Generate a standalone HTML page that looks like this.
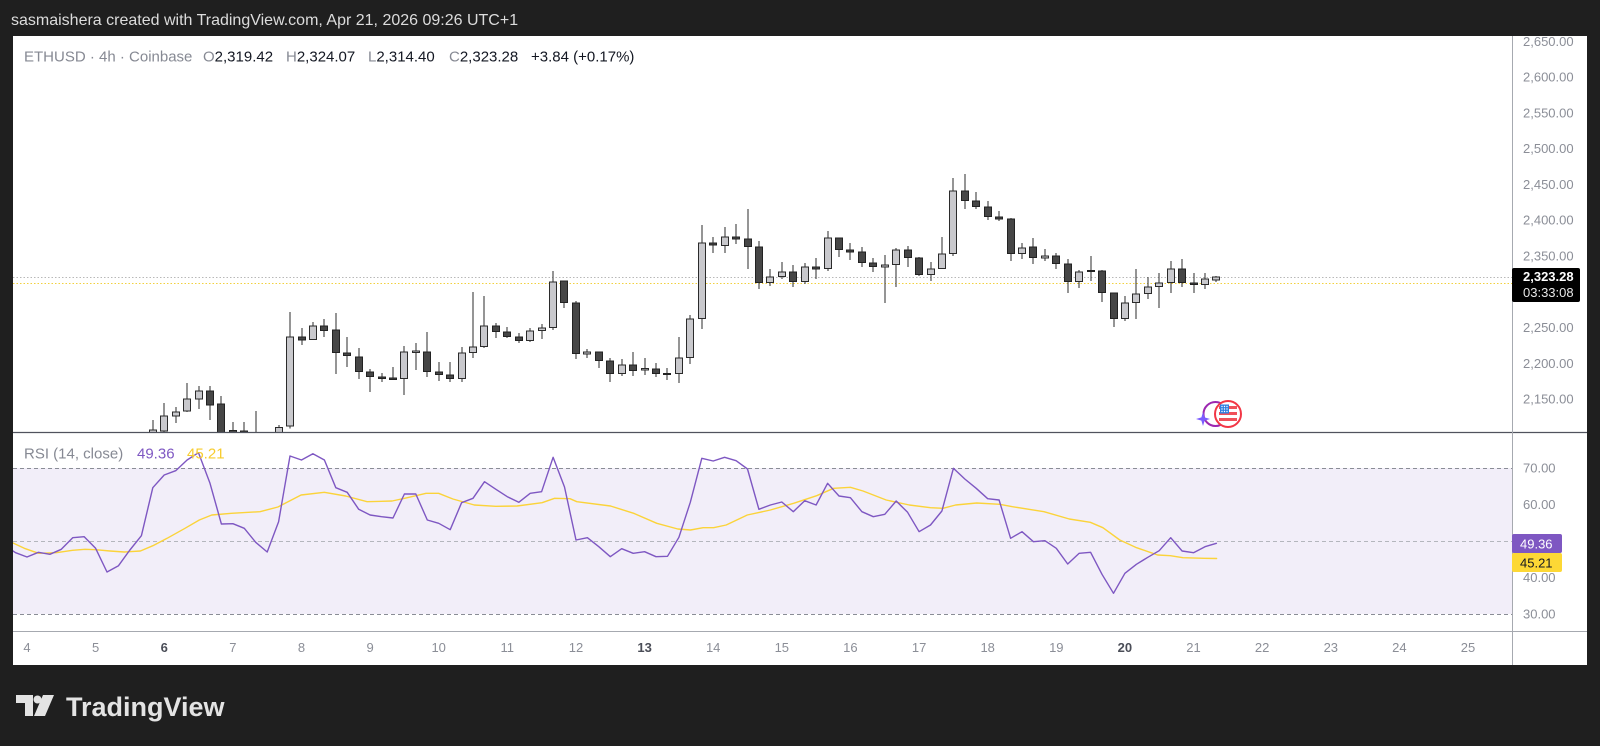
<!DOCTYPE html>
<html>
<head>
<meta charset="utf-8">
<style>
  html,body{margin:0;padding:0;}
  body{width:1600px;height:746px;background:#1f1f1f;overflow:hidden;position:relative;}
  svg{position:absolute;left:0;top:0;}
  text{font-family:"Liberation Sans",Arial,sans-serif;}
</style>
</head>
<body>
<svg width="1600" height="746" viewBox="0 0 1600 746" xmlns="http://www.w3.org/2000/svg">
  <defs>
    <clipPath id="pricePane"><rect x="13" y="36" width="1499" height="396"/></clipPath>
    <clipPath id="priceAxis"><rect x="1513" y="36" width="74" height="396"/></clipPath>
    <clipPath id="rsiPane"><rect x="13" y="433" width="1499" height="198"/></clipPath>
  </defs>

  <!-- header -->
  <text x="11" y="25" font-size="16" fill="#dcdcdc">sasmaishera created with TradingView.com, Apr 21, 2026 09:26 UTC+1</text>

  <!-- white panel -->
  <rect x="13" y="36" width="1574" height="629" fill="#ffffff"/>

  <!-- RSI band background -->
  <rect x="13" y="468" width="1499" height="146" fill="#f2eef9"/>
  <!-- RSI dashed levels -->
  <g stroke-width="1" stroke-dasharray="4 3" fill="none">
    <line x1="13" y1="468.5" x2="1512" y2="468.5" stroke="#8a8d96"/>
    <line x1="13" y1="541.5" x2="1512" y2="541.5" stroke="#b4b6bd"/>
    <line x1="13" y1="614.5" x2="1512" y2="614.5" stroke="#8a8d96"/>
  </g>

  <!-- price lines -->
  <line x1="13" y1="277.5" x2="1512" y2="277.5" stroke="#b8b8b8" stroke-width="1" stroke-dasharray="1.5 2"/>
  <line x1="13" y1="283.5" x2="1512" y2="283.5" stroke="#f2d03c" stroke-width="1" stroke-dasharray="1.5 2"/>

  <!-- candles -->
  <g clip-path="url(#pricePane)" shape-rendering="crispEdges">
    <path fill="none" stroke="#2b2b2b" stroke-width="1" d="
      M153 420V432 M164 403V432 M176 407V423 M187 383V412 M199 386V409 M210 386V420 M221 396V433
      M233 422V433 M244 422V433 M256 411V433 M279 425V433 M290 312V428.5
      M302 328V345 M313 322V340 M324 319V337 M336 313V374 M347 337V367 M359 348V379
      M370 369V392 M382 373V382 M393 367V380 M404 346V395 M416 343V370 M427 332V377
      M439 362V381 M450 362V382 M462 347V382 M473 292V358 M484 296V348 M496 323V338
      M507 327V338 M519 333V343 M530 328V342 M542 324V339 M553 271V330 M564 281V308
      M576 301V359 M587 349V358 M599 352V368 M610 358V382 M622 359V376 M633 352V376
      M645 358V375 M656 363V377 M667 368V380 M679 337V383 M690 315V364 M702 225V329
      M713 237V253 M725 227V253 M736 224V244 M748 209V269 M759 241V289 M770 269V286
      M782 262V279 M793 265V287 M805 263V284 M816 258V279 M828 231V271 M839 238V257
      M850 243V260 M862 247V267 M873 258V272 M885 255V303 M896 248V287 M908 246V267
      M919 257V276 M931 262V281 M942 237V269 M953 178V256 M965 174V209 M976 192V209
      M988 201V220 M999 211V221 M1011 218V261 M1022 243V259 M1033 238V264 M1045 249V261
      M1056 253V269 M1068 259V293 M1079 270V288 M1091 256V281 M1102 270V302 M1114 293V327
      M1125 296V321 M1136 269V319 M1148 277V299 M1159 273V308 M1171 261V293 M1182 259V287
      M1194 273V293 M1205 273V289 M1216 276V282"/>
    <!-- up candles -->
    <g fill="#c9c9cd" stroke="#2b2b2b" stroke-width="1">
      <rect x="149.5" y="430" width="7" height="3"/>
      <rect x="160.5" y="416" width="7" height="15"/>
      <rect x="172.5" y="412" width="7" height="4"/>
      <rect x="183.5" y="399" width="7" height="12"/>
      <rect x="195.5" y="391" width="7" height="8"/>
      <rect x="275.5" y="427.5" width="7" height="6"/>
      <rect x="286.5" y="337" width="7" height="89"/>
      <rect x="309.5" y="326" width="7" height="13.5"/>
      <rect x="400.5" y="352" width="7" height="26.5"/>
      <rect x="412.5" y="351" width="7" height="1.5"/>
      <rect x="458.5" y="353" width="7" height="25.5"/>
      <rect x="469.5" y="347" width="7" height="5.5"/>
      <rect x="480.5" y="326" width="7" height="20.5"/>
      <rect x="526.5" y="331" width="7" height="9.5"/>
      <rect x="538.5" y="328" width="7" height="2.5"/>
      <rect x="549.5" y="282" width="7" height="45.5"/>
      <rect x="583.5" y="352" width="7" height="2"/>
      <rect x="618.5" y="365" width="7" height="8.5"/>
      <rect x="641.5" y="368.5" width="7" height="1.5"/>
      <rect x="675.5" y="358" width="7" height="15.5"/>
      <rect x="686.5" y="319" width="7" height="38.5"/>
      <rect x="698.5" y="243" width="7" height="75.5"/>
      <rect x="721.5" y="237" width="7" height="8.5"/>
      <rect x="766.5" y="277" width="7" height="5.5"/>
      <rect x="778.5" y="272" width="7" height="4.5"/>
      <rect x="801.5" y="267" width="7" height="14.5"/>
      <rect x="824.5" y="238" width="7" height="30.5"/>
      <rect x="881.5" y="265" width="7" height="2"/>
      <rect x="892.5" y="250" width="7" height="14.5"/>
      <rect x="927.5" y="269" width="7" height="5.5"/>
      <rect x="938.5" y="254" width="7" height="14.5"/>
      <rect x="949.5" y="191" width="7" height="62.5"/>
      <rect x="1018.5" y="248" width="7" height="5.5"/>
      <rect x="1041.5" y="256" width="7" height="2"/>
      <rect x="1075.5" y="272" width="7" height="9.5"/>
      <rect x="1121.5" y="303" width="7" height="15.5"/>
      <rect x="1132.5" y="294" width="7" height="8.5"/>
      <rect x="1144.5" y="287" width="7" height="6.5"/>
      <rect x="1155.5" y="283" width="7" height="3.5"/>
      <rect x="1167.5" y="269" width="7" height="13.5"/>
      <rect x="1201.5" y="279" width="7" height="5.5"/>
      <rect x="1212.5" y="277" width="7" height="3"/>
    </g>
    <!-- down candles -->
    <g fill="#464646" stroke="#222222" stroke-width="1">
      <rect x="206.5" y="391" width="7" height="14"/>
      <rect x="217.5" y="404" width="7" height="29"/>
      <rect x="229.5" y="430.5" width="7" height="3"/>
      <rect x="240.5" y="431" width="7" height="3"/>
      <rect x="298.5" y="337" width="7" height="3"/>
      <rect x="320.5" y="326" width="7" height="4.5"/>
      <rect x="332.5" y="330" width="7" height="22.5"/>
      <rect x="343.5" y="353" width="7" height="2.5"/>
      <rect x="355.5" y="357" width="7" height="14.5"/>
      <rect x="366.5" y="372" width="7" height="4.5"/>
      <rect x="378.5" y="377" width="7" height="1.5"/>
      <rect x="389.5" y="378" width="7" height="1.5"/>
      <rect x="423.5" y="352" width="7" height="19.5"/>
      <rect x="435.5" y="372" width="7" height="2.5"/>
      <rect x="446.5" y="375" width="7" height="3.5"/>
      <rect x="492.5" y="326" width="7" height="5.5"/>
      <rect x="503.5" y="332" width="7" height="4.5"/>
      <rect x="515.5" y="337" width="7" height="3.5"/>
      <rect x="560.5" y="281" width="7" height="21.5"/>
      <rect x="572.5" y="303" width="7" height="50.5"/>
      <rect x="595.5" y="352" width="7" height="8.5"/>
      <rect x="606.5" y="361" width="7" height="12.5"/>
      <rect x="629.5" y="365" width="7" height="5.5"/>
      <rect x="652.5" y="369" width="7" height="4.5"/>
      <rect x="663.5" y="373.5" width="7" height="1"/>
      <rect x="709.5" y="243" width="7" height="2"/>
      <rect x="732.5" y="237" width="7" height="2"/>
      <rect x="744.5" y="239" width="7" height="7.5"/>
      <rect x="755.5" y="247" width="7" height="35.5"/>
      <rect x="789.5" y="272" width="7" height="9.5"/>
      <rect x="812.5" y="267" width="7" height="2"/>
      <rect x="835.5" y="238" width="7" height="11.5"/>
      <rect x="846.5" y="250" width="7" height="2"/>
      <rect x="858.5" y="252" width="7" height="10.5"/>
      <rect x="869.5" y="263" width="7" height="3.5"/>
      <rect x="904.5" y="250" width="7" height="7.5"/>
      <rect x="915.5" y="258" width="7" height="16.5"/>
      <rect x="961.5" y="191" width="7" height="9.5"/>
      <rect x="972.5" y="201" width="7" height="5.5"/>
      <rect x="984.5" y="207" width="7" height="9.5"/>
      <rect x="995.5" y="217" width="7" height="2"/>
      <rect x="1007.5" y="219" width="7" height="34.5"/>
      <rect x="1029.5" y="247" width="7" height="10.5"/>
      <rect x="1052.5" y="256" width="7" height="7.5"/>
      <rect x="1064.5" y="264" width="7" height="17.5"/>
      <rect x="1087.5" y="270.5" width="7" height="1"/>
      <rect x="1098.5" y="271" width="7" height="21.5"/>
      <rect x="1110.5" y="293" width="7" height="25.5"/>
      <rect x="1178.5" y="269" width="7" height="13.5"/>
      <rect x="1190.5" y="283" width="7" height="1.5"/>
    </g>
  </g>

  <!-- event icons -->
  <circle cx="1215.5" cy="414" r="12" fill="none" stroke="#9c27b0" stroke-width="2"/>
  <path d="M1203 412 L1204.6 417.4 L1210 419 L1204.6 420.6 L1203 426 L1201.4 420.6 L1196 419 L1201.4 417.4 Z" fill="#7b5cff"/>
  <circle cx="1228" cy="414" r="13" fill="#ffffff" stroke="#f23645" stroke-width="2"/>
  <g>
    <rect x="1219" y="406" width="18" height="3" fill="#f0505a"/>
    <rect x="1219" y="412" width="18" height="3" fill="#f0505a"/>
    <rect x="1219" y="418" width="18" height="3" fill="#f0505a"/>
    <rect x="1220" y="404.5" width="9" height="9" fill="#2f7fe0"/>
    <g fill="#ffffff">
      <circle cx="1222" cy="406.5" r="0.7"/><circle cx="1224.5" cy="406.5" r="0.7"/><circle cx="1227" cy="406.5" r="0.7"/>
      <circle cx="1222" cy="409" r="0.7"/><circle cx="1224.5" cy="409" r="0.7"/><circle cx="1227" cy="409" r="0.7"/>
      <circle cx="1222" cy="411.5" r="0.7"/><circle cx="1224.5" cy="411.5" r="0.7"/><circle cx="1227" cy="411.5" r="0.7"/>
    </g>
  </g>

  <!-- RSI lines -->
  <g clip-path="url(#rsiPane)" fill="none" stroke-linejoin="round" stroke-linecap="round">
    <polyline stroke="#fbd33a" stroke-width="1.4" points="13,543 24.3,548.3 38.6,553.3 56.4,552.7 72.5,550.3 85,549.3 95.7,549.7 110,551 124.3,552 140.4,551 152.9,545.7 167.1,538.3 185,528.3 199.3,520 211.8,515 231.4,513.3 260,511.7 277.9,507 301.1,495 324.3,492.3 345.7,496 367.1,501.7 392.1,501 404.6,498.3 426.1,493.3 438.6,493.3 452.9,499 474.3,505 495.7,506.3 517.1,506 542.1,502.7 554.6,498.3 570,498.7 576.8,501.7 610.5,506 633.7,513.3 656.8,523.3 677.8,529 690.5,530 703.1,527.7 713.6,527.7 726.2,525 747.3,515 770.4,510 793.6,503.3 816.7,495.7 833.6,488.3 850.4,487.3 863,491 886.2,500 909.3,505 930.4,507.7 943,508.3 955.6,505 976.7,503 999.8,504.3 1012.4,506.7 1044,511.7 1069.3,519 1090.3,522.3 1102.9,527.7 1119.8,540 1136.6,547.7 1157.6,555 1170.3,555.7 1182.9,557.7 1204,558.3 1216.6,558.5"/>
    <polyline stroke="#7e57c2" stroke-width="1.4" points="13,551 15.6,552.7 27,557 38.4,552.3 49.9,554.3 61.3,549.3 72.7,537.7 84.2,536.7 95.6,548.3 107,572 118.5,565.7 129.9,550 141.4,535.7 152.8,487.7 164.2,475 175.7,470.7 187.1,460 198.5,452.7 210,483.3 221.4,524 232.9,523.7 244.3,528.3 255.7,542.3 267.2,552 278.6,521.7 290,456 301.5,460 312.9,453.7 324.4,460 335.8,487.7 347.2,492.3 358.7,509.3 370.1,515 381.5,516.7 393,518 404.4,494 415.8,494 427.3,520 438.7,523.3 450.2,529.7 461.6,502.7 473,498.3 484.5,481.7 495.9,489.3 507.3,496.7 518.8,502.3 530.2,493.3 541.6,491.7 553.1,457.3 564.5,487 576,540 587.4,537.7 598.8,546.7 610.3,556.7 621.7,548.7 633.2,553.3 644.6,551.7 656,556.7 667.5,556.3 678.9,537.3 690.3,502.3 701.8,458.3 713.2,461 724.6,457.3 736.1,460.7 747.5,469 758.9,509.3 770.4,505 781.8,502 793.3,511.7 804.7,500.7 816.1,505 827.6,483.3 839,496 850.4,497.7 861.9,511.7 873.3,516.7 884.8,514.3 896.2,501 907.6,512.3 919.1,531.7 930.5,525 941.9,511 953.4,468.3 964.8,479 976.2,488.3 987.7,498.7 999.1,500 1010.6,538.3 1022,531.7 1033.4,541.7 1044.9,540.7 1056.3,548.3 1067.7,564 1079.2,553.3 1090.6,552.3 1102,574.3 1113.5,593.3 1124.9,573.3 1136.4,564.3 1147.8,557.3 1159.2,550.7 1170.7,537.7 1182.1,551 1193.5,552.7 1205,546.7 1216.4,543.3"/>
  </g>

  <!-- separators -->
  <line x1="13" y1="432.5" x2="1587" y2="432.5" stroke="#50535e" stroke-width="1.2"/>
  <line x1="13" y1="631.5" x2="1587" y2="631.5" stroke="#a6a9b0" stroke-width="1"/>
  <line x1="1512.5" y1="36" x2="1512.5" y2="665" stroke="#a6a9b0" stroke-width="1"/>

  <!-- legend -->
  <text y="61.5" font-size="15" fill="#868993">
    <tspan x="24">ETHUSD · 4h · Coinbase</tspan>
  </text>
  <text y="61.5" font-size="15" fill="#868993"><tspan x="203">O</tspan><tspan fill="#131722">2,319.42</tspan></text>
  <text y="61.5" font-size="15" fill="#868993"><tspan x="286">H</tspan><tspan fill="#131722">2,324.07</tspan></text>
  <text y="61.5" font-size="15" fill="#868993"><tspan x="368">L</tspan><tspan fill="#131722">2,314.40</tspan></text>
  <text y="61.5" font-size="15" fill="#868993"><tspan x="449">C</tspan><tspan fill="#131722">2,323.28</tspan></text>
  <text x="531" y="61.5" font-size="15" fill="#131722">+3.84 (+0.17%)</text>

  <!-- RSI legend -->
  <text x="24" y="458.5" font-size="15" fill="#868993">RSI (14, close)</text>
  <text x="137" y="458.5" font-size="15" fill="#7e57c2">49.36</text>
  <text x="187" y="458.5" font-size="15" fill="#f7cc2e">45.21</text>

  <!-- price axis labels -->
  <g clip-path="url(#priceAxis)" font-size="13" fill="#8b8e97">
    <text x="1523" y="45.8">2,650.00</text>
    <text x="1523" y="81.6">2,600.00</text>
    <text x="1523" y="117.4">2,550.00</text>
    <text x="1523" y="153.1">2,500.00</text>
    <text x="1523" y="188.9">2,450.00</text>
    <text x="1523" y="224.7">2,400.00</text>
    <text x="1523" y="260.5">2,350.00</text>
    <text x="1523" y="332">2,250.00</text>
    <text x="1523" y="367.8">2,200.00</text>
    <text x="1523" y="403.6">2,150.00</text>
  </g>
  <!-- current price label -->
  <rect x="1512" y="268" width="68" height="34" rx="2" fill="#000000"/>
  <text x="1523" y="281" font-size="13" font-weight="bold" fill="#ffffff">2,323.28</text>
  <text x="1523" y="297" font-size="13" fill="#e8e8e8">03:33:08</text>

  <!-- RSI axis labels -->
  <g font-size="13" fill="#8b8e97">
    <text x="1523" y="472.7">70.00</text>
    <text x="1523" y="509.2">60.00</text>
    <text x="1523" y="582.2">40.00</text>
    <text x="1523" y="618.7">30.00</text>
  </g>
  <rect x="1512" y="534" width="50" height="19" rx="2" fill="#7e57c2"/>
  <text x="1520" y="548.3" font-size="13" fill="#ffffff">49.36</text>
  <rect x="1512" y="553" width="50" height="19" rx="2" fill="#fdd835"/>
  <text x="1520" y="567.3" font-size="13" fill="#131722">45.21</text>

  <!-- time axis -->
  <g font-size="13" fill="#8b8e97" text-anchor="middle">
    <text x="27" y="652">4</text>
    <text x="95.6" y="652">5</text>
    <text x="164.2" y="652" fill="#4a4d57" font-weight="bold">6</text>
    <text x="232.9" y="652">7</text>
    <text x="301.5" y="652">8</text>
    <text x="370.1" y="652">9</text>
    <text x="438.7" y="652">10</text>
    <text x="507.3" y="652">11</text>
    <text x="576" y="652">12</text>
    <text x="644.6" y="652" fill="#4a4d57" font-weight="bold">13</text>
    <text x="713.2" y="652">14</text>
    <text x="781.8" y="652">15</text>
    <text x="850.4" y="652">16</text>
    <text x="919.1" y="652">17</text>
    <text x="987.7" y="652">18</text>
    <text x="1056.3" y="652">19</text>
    <text x="1124.9" y="652" fill="#4a4d57" font-weight="bold">20</text>
    <text x="1193.5" y="652">21</text>
    <text x="1262.1" y="652">22</text>
    <text x="1330.8" y="652">23</text>
    <text x="1399.4" y="652">24</text>
    <text x="1468" y="652">25</text>
  </g>

  <!-- TradingView logo -->
  <g fill="#e3e3e3">
    <path d="M16 695 H33 V716 H25 V703 H16 Z"/>
    <circle cx="37.5" cy="699.5" r="4"/>
    <path d="M43 695 H54 L45 716 H34 Z"/>
  </g>
  <text x="66" y="716" font-size="27" font-weight="bold" fill="#e3e3e3">TradingView</text>
</svg>
</body>
</html>
